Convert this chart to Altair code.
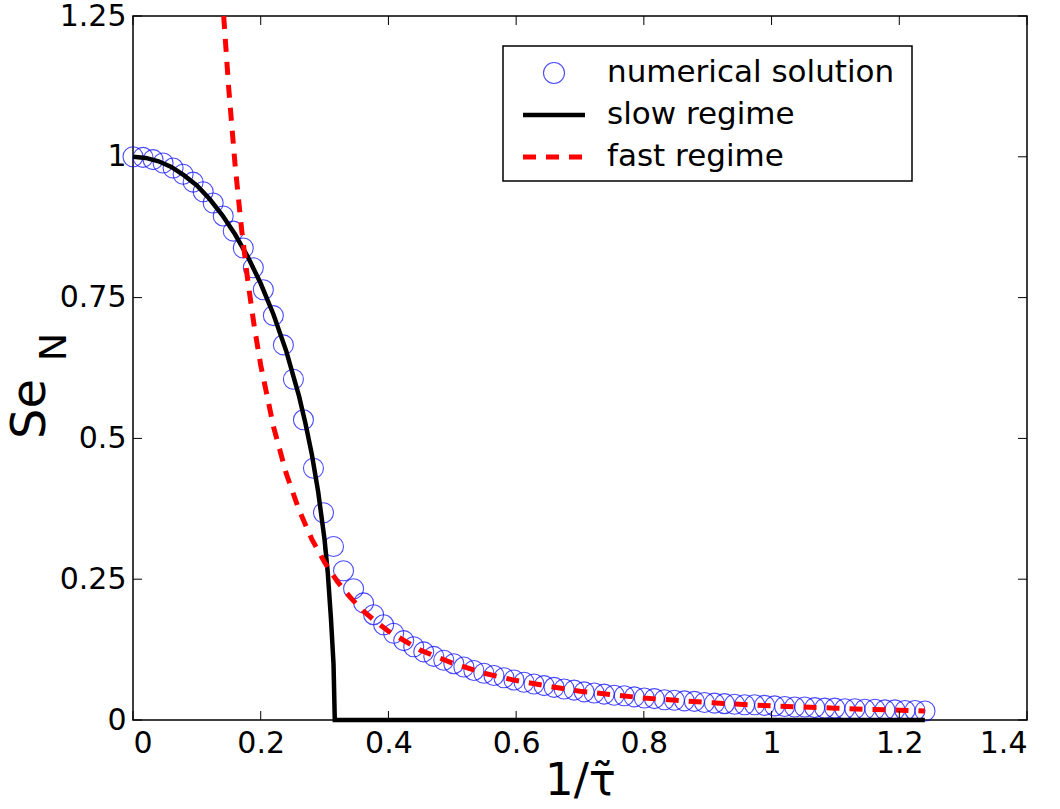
import altair as alt
import pandas as pd

# ---------------- data ----------------
NUM_X = [0.000, 0.0157, 0.0314, 0.0471, 0.0628, 0.0785, 0.0942, 0.1099, 0.1256, 0.1413,
         0.1570, 0.1727, 0.1884, 0.2041, 0.2198, 0.2355, 0.2512, 0.2669, 0.2826, 0.2983,
         0.3140, 0.3297, 0.3454, 0.3611, 0.3768, 0.3925, 0.4082, 0.4239, 0.4396, 0.4553,
         0.4710, 0.4867, 0.5024, 0.5181, 0.5338, 0.5495, 0.5652, 0.5809, 0.5966, 0.6123,
         0.6280, 0.6437, 0.6594, 0.6751, 0.6908, 0.7065, 0.7222, 0.7379, 0.7536, 0.7693,
         0.7850, 0.8007, 0.8164, 0.8321, 0.8478, 0.8635, 0.8792, 0.8949, 0.9106, 0.9263,
         0.9420, 0.9577, 0.9734, 0.9891, 1.0048, 1.0205, 1.0362, 1.0519, 1.0676, 1.0833,
         1.0990, 1.1147, 1.1304, 1.1461, 1.1618, 1.1775, 1.1932, 1.2089, 1.2246, 1.2403]
NUM_Y = [1.000, 0.999, 0.995, 0.989, 0.980, 0.969, 0.955, 0.938, 0.918, 0.895,
         0.868, 0.838, 0.803, 0.764, 0.718, 0.666, 0.605, 0.533, 0.447, 0.368,
         0.308, 0.265, 0.233, 0.208, 0.187, 0.169, 0.154, 0.141, 0.130, 0.121,
         0.113, 0.106, 0.100, 0.094, 0.088, 0.083, 0.079, 0.075, 0.071, 0.067,
         0.064, 0.061, 0.058, 0.055, 0.053, 0.050, 0.048, 0.046, 0.044, 0.043,
         0.041, 0.039, 0.038, 0.036, 0.035, 0.034, 0.033, 0.031, 0.030, 0.029,
         0.028, 0.027, 0.027, 0.026, 0.025, 0.024, 0.023, 0.023, 0.022, 0.021,
         0.021, 0.020, 0.020, 0.019, 0.019, 0.018, 0.018, 0.017, 0.017, 0.016]

SLOW_X = [0.00, 0.02, 0.04, 0.06, 0.08, 0.10, 0.12, 0.14, 0.16, 0.18, 0.20, 0.22,
          0.24, 0.26, 0.27, 0.28, 0.29, 0.30, 0.305, 0.31, 0.314, 0.316, 1.24]
SLOW_Y = [1.000, 0.998, 0.992, 0.982, 0.967, 0.949, 0.925, 0.896, 0.862, 0.822, 0.775, 0.720,
          0.655, 0.575, 0.527, 0.472, 0.405, 0.320, 0.262, 0.180, 0.100, 0.000, 0.000]

FAST_X = [0.142, 0.15, 0.16, 0.17, 0.18, 0.19, 0.20, 0.22, 0.24, 0.26, 0.28, 0.30,
          0.32, 0.34, 0.36, 0.38, 0.40, 0.45, 0.50, 0.55, 0.60, 0.65, 0.70, 0.75,
          0.80, 0.85, 0.90, 0.95, 1.00, 1.05, 1.10, 1.15, 1.20, 1.24]
FAST_Y = [1.250, 1.120, 0.984, 0.872, 0.778, 0.698, 0.630, 0.521, 0.4375, 0.373, 0.321, 0.280,
          0.246, 0.218, 0.194, 0.175, 0.1575, 0.124, 0.101, 0.083, 0.070, 0.060, 0.051, 0.045,
          0.039, 0.035, 0.031, 0.028, 0.025, 0.023, 0.021, 0.019, 0.0175, 0.016]

X_TICKS = [0, 0.2, 0.4, 0.6, 0.8, 1.0, 1.2, 1.4]
Y_TICKS = [0, 0.25, 0.5, 0.75, 1.0, 1.25]
LEGEND_LABELS = ["numerical solution", "slow regime", "fast regime"]
X_TITLE = "1/\u03c4\u0303"
Y_TITLE = "Se"
Y_SUB = "N"

# ---------------- styling ----------------
W, H = 894, 704
FONT = "DejaVu Sans"
TICK = 9
xs = alt.Scale(domain=[0, 1.4], nice=False, zero=False)
ys = alt.Scale(domain=[0, 1.25], nice=False, zero=False)

xaxis = alt.Axis(values=X_TICKS, format="~g", title=X_TITLE, grid=False, ticks=False,
                 domain=False, labelFontSize=30, labelFont=FONT, labelColor="black",
                 labelPadding=8, titleFontSize=45, titleFont=FONT, titleFontWeight="normal",
                 titleColor="black", titlePadding=0)
yaxis = alt.Axis(values=Y_TICKS, format="~g", title="", grid=False, ticks=False,
                 domain=False, labelFontSize=30, labelFont=FONT, labelColor="black",
                 labelPadding=7)

num = pd.DataFrame({"x": NUM_X, "y": NUM_Y})
slow = pd.DataFrame({"x": SLOW_X, "y": SLOW_Y})
fast = pd.DataFrame({"x": FAST_X, "y": FAST_Y})
xt = pd.DataFrame({"x": X_TICKS})
yt = pd.DataFrame({"y": Y_TICKS})
one = pd.DataFrame({"k": [0]})

points = alt.Chart(num).mark_point(shape="circle", filled=False, size=400,
                                   color="#0000ff", strokeWidth=1.1).encode(
    x=alt.X("x:Q", scale=xs, axis=xaxis),
    y=alt.Y("y:Q", scale=ys, axis=yaxis),
)
slow_line = alt.Chart(slow).mark_line(color="black", strokeWidth=4.5).encode(
    x=alt.X("x:Q", scale=xs), y=alt.Y("y:Q", scale=ys), order="x:Q")
fast_line = alt.Chart(fast).mark_line(color="#ff0000", strokeWidth=5,
                                      strokeDash=[13, 10]).encode(
    x=alt.X("x:Q", scale=xs), y=alt.Y("y:Q", scale=ys), order="x:Q")

tick_bot = alt.Chart(xt).mark_rule(color="black", strokeWidth=1).encode(
    x=alt.X("x:Q", scale=xs), y=alt.value(H), y2=alt.value(H - TICK))
tick_top = alt.Chart(xt).mark_rule(color="black", strokeWidth=1).encode(
    x=alt.X("x:Q", scale=xs), y=alt.value(0), y2=alt.value(TICK))
tick_left = alt.Chart(yt).mark_rule(color="black", strokeWidth=1).encode(
    y=alt.Y("y:Q", scale=ys), x=alt.value(0), x2=alt.value(TICK))
tick_right = alt.Chart(yt).mark_rule(color="black", strokeWidth=1).encode(
    y=alt.Y("y:Q", scale=ys), x=alt.value(W), x2=alt.value(W - TICK))

# legend (drawn by hand to match the MATLAB-style box)
LX0, LX1, LY0, LY1 = 370, 779, 30, 165
ROWS = [57, 99, 141]
leg_box = alt.Chart(one).mark_rect(fill="white", stroke="black", strokeWidth=1.5).encode(
    x=alt.value(LX0), x2=alt.value(LX1), y=alt.value(LY0), y2=alt.value(LY1))
leg_circle = alt.Chart(one).mark_point(shape="circle", filled=False, size=441,
                                       color="#0000ff", strokeWidth=1.1).encode(
    x=alt.value(421), y=alt.value(ROWS[0]))
leg_slow = alt.Chart(one).mark_rule(color="black", strokeWidth=4.5).encode(
    x=alt.value(390), x2=alt.value(452), y=alt.value(ROWS[1]))
leg_fast = alt.Chart(one).mark_rule(color="#ff0000", strokeWidth=5, strokeDash=[13, 10]).encode(
    x=alt.value(390), x2=alt.value(452), y=alt.value(ROWS[2]))
leg_texts = [
    alt.Chart(one).mark_text(align="left", baseline="middle", fontSize=31, font=FONT,
                             color="black").encode(
        x=alt.value(474), y=alt.value(r), text=alt.value(lbl))
    for lbl, r in zip(LEGEND_LABELS, ROWS)
]

# y-axis title with subscript
ytitle = alt.Chart(one).mark_text(angle=270, align="center", baseline="middle",
                                  fontSize=48, font=FONT, color="black").encode(
    x=alt.value(-102), y=alt.value(393), text=alt.value(Y_TITLE))
ysub = alt.Chart(one).mark_text(angle=270, align="center", baseline="middle",
                                fontSize=38, font=FONT, color="black").encode(
    x=alt.value(-78), y=alt.value(331), text=alt.value(Y_SUB))

chart = alt.layer(
    points, slow_line, fast_line,
    tick_bot, tick_top, tick_left, tick_right,
    leg_box, leg_circle, leg_slow, leg_fast, *leg_texts,
    ytitle, ysub,
).properties(
    width=W, height=H,
    autosize=alt.AutoSizeParams(type="none"),
    padding={"left": 133, "top": 16, "right": 33, "bottom": 89},
    background="white",
).configure_view(stroke="black", strokeWidth=1.5)

chart.save("out.html", embed_options={"renderer": "svg", "actions": False})
